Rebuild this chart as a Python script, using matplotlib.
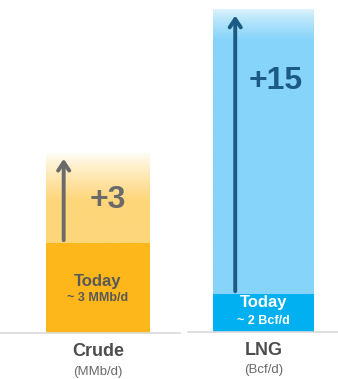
import numpy as np
import matplotlib
matplotlib.use('Agg')
import matplotlib.pyplot as plt
from matplotlib.colors import to_rgb

plt.rcParams['font.family'] = ['Liberation Sans', 'DejaVu Sans']

categories = ['Crude', 'LNG']
units = ['(MMb/d)', '(Bcf/d)']
today = [3, 2]
growth = [3, 15]
today_labels = ['~ 3 MMb/d', '~ 2 Bcf/d']
growth_labels = ['+3', '+15']

W, H = 338, 379
fig = plt.figure(figsize=(W / 100, H / 100), dpi=100)

# per-bar styling
base_col = ['#FDB71A', '#00B0F0']
grow_col = ['#FED67A', '#86D4FA']
top_col = ['#FFFFFF', '#DDF3FD']
arrow_col = ['#6a6a6a', '#1B5A82']
plus_col = ['#6a6a6a', '#1B5A82']
today_col = ['#585858', 'white']

# axes geometry in pixels: left, right, baseline, px per unit, bar centre, bar width
geo = [
    (0, 180, 333, 30.0, 98, 104),
    (188, 338, 332, 19.0, 263.5, 101),
]

def grad_img(c_top, c_bot, fade_frac, n=200):
    t = np.linspace(0, 1, n)  # 0 = top, 1 = bottom
    k = np.clip(t / fade_frac, 0, 1) ** 0.8
    a = np.array(to_rgb(c_top))
    b = np.array(to_rgb(c_bot))
    rows = a[None, :] * (1 - k[:, None]) + b[None, :] * k[:, None]
    return np.repeat(rows[:, None, :], 2, axis=1)

for i in range(2):
    l, r, base, ppu, cx, bw = geo[i]
    ax = fig.add_axes([l / W, (H - base) / H, (r - l) / W, base / H])
    ax.set_xlim(-(cx - l) / bw, (r - cx) / bw)
    ax.set_ylim(0, base / ppu)
    ax.axis('off')

    total = today[i] + growth[i]
    # growth region with fade at top
    fade = 1.6 / growth[i]
    ax.imshow(grad_img(top_col[i], grow_col[i], fade), extent=(-0.5, 0.5, today[i], total),
              aspect='auto', zorder=1, interpolation='bilinear')
    ax.bar(0, today[i], width=1.0, color=base_col[i], zorder=2)
    ax.axhline(0, color='#d9d9d9', lw=1.2, zorder=3, clip_on=False)

    ax_x = [-0.33, -0.28][i]
    ax.annotate('', xy=(ax_x, total - 0.1 * (i + 1)), xytext=(ax_x, today[i]),
                arrowprops=dict(arrowstyle='->,head_width=0.4,head_length=0.6',
                                color=arrow_col[i], lw=2.8), zorder=4)

    gx, gy = [(0.09, 4.43), (0.12, 13.2)][i]
    ax.text(gx, gy, growth_labels[i], ha='center', va='center', fontsize=23,
            fontweight='bold', color=plus_col[i], zorder=5)

    ty1, ty2 = [(1.73, 1.17), (1.53, 0.58)][i]
    ax.text(0, ty1, 'Today', ha='center', va='center', fontsize=12,
            fontweight='bold', color=today_col[i], zorder=5)
    ax.text(0, ty2, today_labels[i], ha='center', va='center', fontsize=9,
            fontweight='bold', color=today_col[i], zorder=5)

    ly1, ly2 = [(-0.63, -1.3), (-0.95, -2.0)][i]
    ax.text(0, ly1, categories[i], ha='center', va='center', fontsize=13,
            fontweight='bold', color='#4d4d4d', clip_on=False)
    ax.text(0, ly2, units[i], ha='center', va='center', fontsize=9.5,
            color='#6a6a6a', clip_on=False)

fig.savefig('out.png', dpi=100)
